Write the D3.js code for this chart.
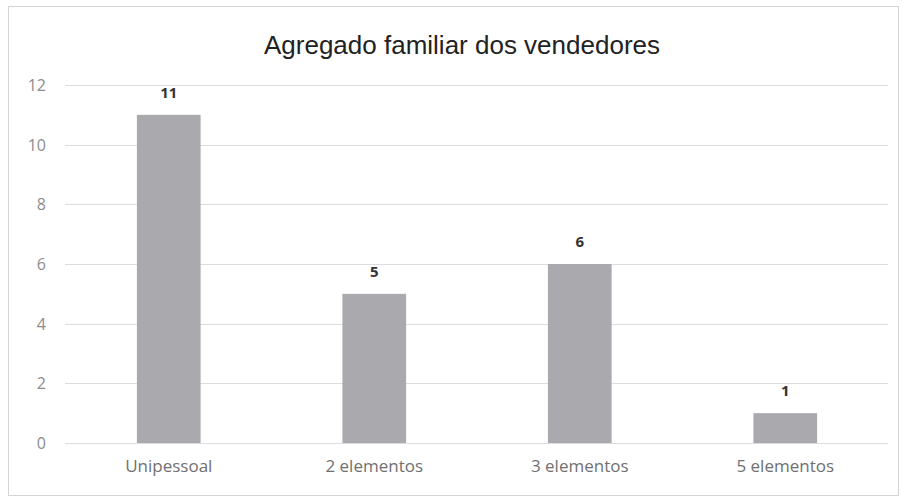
<!DOCTYPE html>
<html><head><meta charset="utf-8">
<script src="https://cdn.jsdelivr.net/npm/d3@7"></script>
<style>html,body{margin:0;padding:0;background:#fff;}svg{display:block;}</style>
</head><body><svg id="c" width="904" height="498"></svg>
<script>
const categories = ["Unipessoal", "2 elementos", "3 elementos", "5 elementos"];
const values = [11, 5, 6, 1];
const yTicks = [0, 2, 4, 6, 8, 10, 12];
const title = "Agregado familiar dos vendedores";

const svg = d3.select("#c");
svg.append("rect").attr("x", 8.5).attr("y", 6.5).attr("width", 890).attr("height", 489)
  .attr("fill", "#fff").attr("stroke", "#d4d4d8").attr("stroke-width", 1);

const x = d3.scaleBand().domain(categories).range([66, 888]).padding(0);
const y = d3.scaleLinear().domain([0, 12]).range([443, 85]);

// gridlines
svg.append("g").selectAll("line").data(yTicks).join("line")
  .attr("x1", 65).attr("x2", 888)
  .attr("y1", d => Math.round(y(d)) + 0.5).attr("y2", d => Math.round(y(d)) + 0.5)
  .attr("stroke", "#dcdce0").attr("stroke-width", 1);

// y axis labels
const yAxis = d3.axisLeft(y).tickValues(yTicks).tickSize(0).tickPadding(0);
const yg = svg.append("g").attr("transform", "translate(46,0)").call(yAxis);
yg.select(".domain").remove();
yg.selectAll("text").attr("font-family", "'Open Sans', sans-serif").attr("font-size", 16)
  .attr("fill", "#8c8c8c").attr("dy", "0.35em");

// x axis labels
const xAxis = d3.axisBottom(x).tickSize(0).tickPadding(0);
const xg = svg.append("g").attr("transform", "translate(0,460)").call(xAxis);
xg.select(".domain").remove();
xg.selectAll("text").attr("font-family", "'Open Sans', sans-serif").attr("font-size", 17)
  .attr("fill", "#707070");

// bars
const bw = x.bandwidth() * 0.31;
svg.append("g").selectAll("rect").data(values).join("rect")
  .attr("x", (d, i) => x(categories[i]) + x.bandwidth() / 2 - bw / 2)
  .attr("width", bw)
  .attr("y", d => y(d))
  .attr("height", d => y(0) - y(d))
  .attr("fill", "#a9a9ae");

// value labels
svg.append("g").selectAll("text").data(values).join("text")
  .attr("x", (d, i) => x(categories[i]) + x.bandwidth() / 2)
  .attr("y", d => y(d) - 17)
  .attr("text-anchor", "middle")
  .attr("font-family", "'Open Sans', sans-serif").attr("font-weight", "bold")
  .attr("font-size", 15).attr("fill", "#333")
  .text(d => d);

// title
svg.append("text").attr("x", 462).attr("y", 54).attr("text-anchor", "middle")
  .attr("font-family", "'Liberation Sans', Arial, sans-serif").attr("font-size", 26)
  .attr("fill", "#222").text(title);
</script></body></html>
